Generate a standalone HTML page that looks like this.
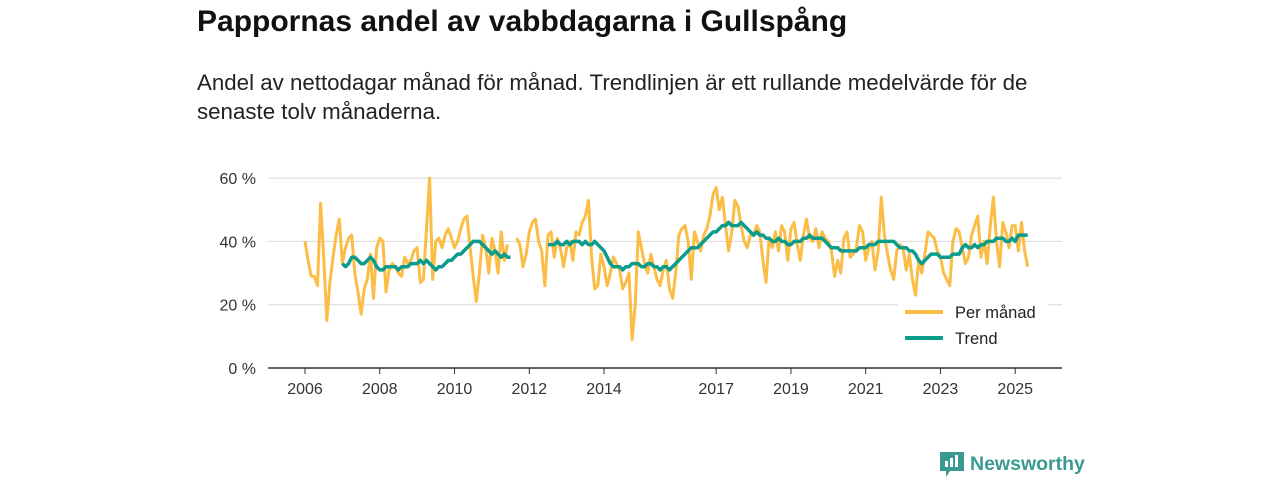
<!DOCTYPE html>
<html><head><meta charset="utf-8"><style>
body{margin:0;width:1280px;height:480px;background:#fff;font-family:"Liberation Sans",sans-serif;position:relative;overflow:hidden}
#title{position:absolute;left:197px;top:5px;font-size:30px;font-weight:bold;color:#111;margin:0;white-space:nowrap}
#sub{position:absolute;left:197px;top:68px;font-size:22.3px;line-height:29px;color:#222;width:870px}
svg{position:absolute;left:0;top:0}
#logo{position:absolute;left:940px;top:450px;display:flex;align-items:center;color:#3a9a92;font-size:19.5px;font-weight:bold}
</style></head><body>
<h1 id="title">Pappornas andel av vabbdagarna i Gullspång</h1>
<div id="sub">Andel av nettodagar månad för månad. Trendlinjen är ett rullande medelvärde för de senaste tolv månaderna.</div>
<svg id="chart" width="1280" height="480"></svg>
<div id="logo">
<svg width="24" height="28" style="position:static;margin-right:6px"><path d="M0 2h24v19H10l-4 6v-6H0z" fill="#3a9a92"/><rect x="5" y="11" width="3" height="6" fill="#fff"/><rect x="10" y="8" width="3" height="9" fill="#fff"/><rect x="15" y="5" width="3" height="12" fill="#fff"/></svg>
<span>Newsworthy</span></div>
<script>
const startYear = 2006;
const monthly = [
40,34,29,29,26,52,35,15,27,35,42,47,
33,38,41,42,30,24,17,25,28,36,22,38,
41,40,24,31,33,32,30,29,35,33,34,37,
38,27,28,44,60,28,40,41,38,42,44,41,
38,40,44,47,48,38,29,21,30,42,38,30,
41,37,30,43,34,39,null,null,41,39,32,36,
43,46,47,40,37,26,42,43,35,41,38,32,
38,40,34,43,42,46,48,53,35,25,26,36,
32,26,30,35,33,31,25,27,30,9,20,43,
38,33,30,36,32,28,26,31,34,25,22,30,
42,44,45,40,28,43,40,37,42,44,48,55,
57,50,54,45,37,43,53,51,45,40,38,42,
42,45,43,34,27,41,38,43,37,45,43,34,
44,46,39,34,42,47,41,40,44,38,43,41,
40,37,29,34,30,41,43,35,36,38,45,43,
34,38,40,31,37,54,42,36,31,28,37,39,
38,31,36,28,23,34,30,36,43,42,41,37,
35,30,28,26,40,44,43,38,33,35,42,45,
48,35,40,33,45,54,40,32,46,43,38,45,
45,37,46,37,32];
const trend = [
null,null,null,null,null,null,null,null,null,null,null,null,
33,32,33,35,35,34,33,33,34,35,34,32,
31,31,32,32,32,32,31,32,32,32,33,33,
33,34,33,34,33,32,31,32,32,33,34,34,
35,36,36,37,38,39,40,40,40,39,38,37,
36,37,36,35,36,35,35,null,null,null,null,null,
null,null,null,null,null,null,39,39,39,40,39,39,
40,39,40,40,40,39,40,39,39,40,39,38,
37,35,33,32,32,32,31,32,32,33,33,33,
32,32,33,33,32,32,31,32,32,31,32,33,
34,35,36,37,38,38,38,39,40,41,42,43,
43,44,45,45,46,45,45,45,46,45,44,43,
42,43,42,42,41,41,40,40,41,40,40,39,
39,40,40,40,41,41,42,41,41,41,41,40,
39,38,38,38,37,37,37,37,37,37,38,38,
38,39,39,39,40,40,40,40,40,40,39,38,
38,38,37,37,36,34,33,34,35,36,36,36,
35,35,35,35,36,36,36,38,39,38,38,39,
38,39,39,40,40,40,41,41,41,40,40,41,
40,42,42,42,42];
const yTicks = [0,20,40,60];
const xTicks = [2006,2008,2010,2012,2014,2017,2019,2021,2023,2025];

const NS="http://www.w3.org/2000/svg";
const svg=document.getElementById('chart');
const x = yr => 305 + (yr-2006)*37.38;
const y = v => 368 - v*3.165;
function mk(t,a){const e=document.createElementNS(NS,t);for(const k in a)e.setAttribute(k,a[k]);svg.appendChild(e);return e;}
yTicks.forEach(v=>{
  if(v>0){const g=mk('line',{x1:268,x2:1062,y1:y(v),y2:y(v),stroke:'#d8d8d8','stroke-width':1});
  
  }
  const t=mk('text',{x:256,y:y(v)+6,'text-anchor':'end','font-size':16,fill:'#333','font-family':'Liberation Sans, sans-serif'});
  t.textContent=v+' %';
  
  
});
const ax=mk('line',{x1:268,x2:1062,y1:368,y2:368,stroke:'#333','stroke-width':1.5});


xTicks.forEach(yr=>{
  const tk=mk('line',{x1:x(yr),x2:x(yr),y1:368,y2:374,stroke:'#333'});
  
  
  const t=mk('text',{x:x(yr),y:394,'text-anchor':'middle','font-size':16,fill:'#333','font-family':'Liberation Sans, sans-serif'});
  t.textContent=yr;
  
  
});
function pathOf(arr){let d='',pen=false;arr.forEach((v,i)=>{if(v==null){pen=false;return;}const px=x(startYear+i/12),py=y(v);d+=(pen?'L':'M')+px.toFixed(1)+' '+py.toFixed(1);pen=true;});return d;}
const p1=mk('path',{d:pathOf(monthly),fill:'none',stroke:'#fbbd45','stroke-width':3,'stroke-linejoin':'round'});


const p2=mk('path',{d:pathOf(trend),fill:'none',stroke:'#0c9c8c','stroke-width':3.5,'stroke-linejoin':'round'});


[['Per månad','#fbbd45',312],['Trend','#0c9c8c',338]].forEach(([l,c,yy])=>{
  const bg=mk('rect',{x:898,y:yy-13,width:150,height:26,fill:'#fff'});
  
  
  const ln=mk('line',{x1:905,x2:943,y1:yy,y2:yy,stroke:c,'stroke-width':4});
  
  
  const t=mk('text',{x:955,y:yy+6,'font-size':16.5,fill:'#222','font-family':'Liberation Sans, sans-serif'});
  t.textContent=l;
  
  
});
</script>
</body></html>
